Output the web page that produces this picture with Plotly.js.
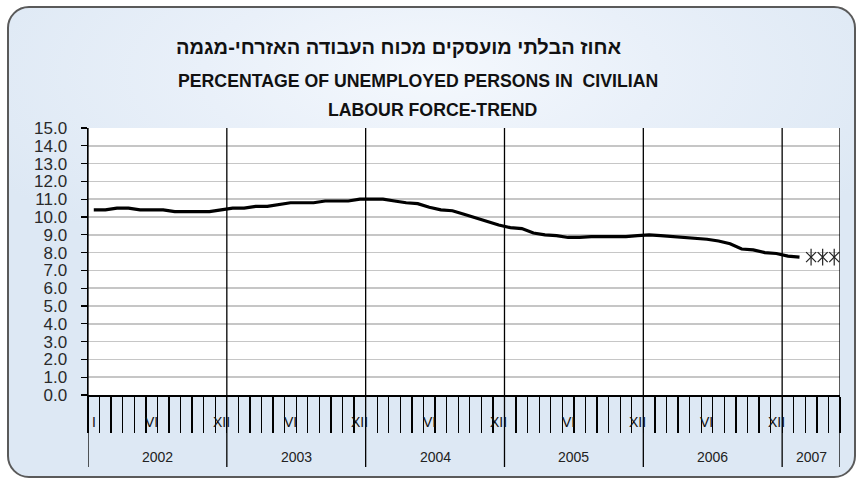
<!DOCTYPE html>
<html>
<head>
<meta charset="utf-8">
<script src="https://cdn.plot.ly/plotly-3.0.1.min.js"></script>
<style>
  html, body { margin: 0; padding: 0; background: #ffffff; }
  #frame {
    position: absolute; left: 7px; top: 6px; width: 849px; height: 472px;
    box-sizing: border-box; border: 2px solid #5a5a5a; border-radius: 22px;
    background: radial-gradient(ellipse 60% 45% at 50% 14%, #f4f8fd 0%, #e9f0f9 45%, #dde8f4 100%);
  }
  #chart { position: absolute; left: 0; top: 0; width: 864px; height: 486px; }
</style>
</head>
<body>
<div id="frame"></div>
<div id="chart"></div>
<script>
// ---- data ----
const years = [2002, 2003, 2004, 2005, 2006, 2007];
const monthsInYear = [12, 12, 12, 12, 12, 5];
const romanMonths = ['I','II','III','IV','V','VI','VII','VIII','IX','X','XI','XII'];
const labelledMonths = [6, 12];           // VI and XII in every year, I only at the start
// trend, Jan 2002 .. Feb 2007 (%)
const unemployment = [
  10.4, 10.4, 10.5, 10.5, 10.4, 10.4, 10.4, 10.3, 10.3, 10.3, 10.3, 10.4,   // 2002
  10.5, 10.5, 10.6, 10.6, 10.7, 10.8, 10.8, 10.8, 10.9, 10.9, 10.9, 11.0,   // 2003
  11.0, 11.0, 10.9, 10.8, 10.75, 10.55, 10.4, 10.35, 10.15, 9.95, 9.75, 9.55, // 2004
  9.4, 9.35, 9.1, 9.0, 8.95, 8.85, 8.85, 8.9, 8.9, 8.9, 8.9, 8.95,          // 2005
  9.0, 8.95, 8.9, 8.85, 8.8, 8.75, 8.65, 8.5, 8.2, 8.15, 8.0, 7.95,         // 2006
  7.8, 7.75                                                               // 2007
];
// Mar..May 2007, drawn as star markers
const preliminary = [7.75, 7.75, 7.75];

const titleHe = 'אחוז הבלתי מועסקים מכוח העבודה האזרחי-מגמה';
const titleEn1 = 'PERCENTAGE OF UNEMPLOYED PERSONS IN\u00a0\u00a0CIVILIAN';
const titleEn2 = 'LABOUR FORCE-TREND';

// ---- build ----
const totalMonths = monthsInYear.reduce((a, b) => a + b, 0);
const xMain = unemployment.map((v, i) => i + 0.5);
const xPrelim = preliminary.map((v, i) => unemployment.length + i + 0.5);

const boundaries = [0];
monthsInYear.forEach(n => boundaries.push(boundaries[boundaries.length - 1] + n));

const yearLineBottom = -0.27;
const shapes = boundaries.map(b => ({
  type: 'line', xref: 'x', yref: 'paper', x0: b, x1: b, y0: yearLineBottom, y1: 1,
  line: { color: '#000000', width: 1.3 }, layer: 'above'
}));

const annotations = [];
const tickFont = { family: 'Liberation Sans, Arial, sans-serif', size: 14, color: '#111111' };
years.forEach((yr, k) => {
  const start = boundaries[k];
  annotations.push({
    xref: 'x', yref: 'paper', x: start + monthsInYear[k] / 2, y: -0.232,
    text: String(yr), showarrow: false, font: { family: 'Liberation Sans, Arial, sans-serif', size: 14, color: '#222222' },
    xanchor: 'center', yanchor: 'middle'
  });
  const months = (k === 0 ? [1] : []).concat(labelledMonths);
  months.forEach(m => {
    if (m <= monthsInYear[k]) {
      annotations.push({
        xref: 'x', yref: 'paper', x: start + m - 0.5, y: -0.1,
        text: romanMonths[m - 1], showarrow: false, font: tickFont,
        xanchor: 'center', yanchor: 'middle'
      });
    }
  });
});
const titleFontHe = { family: 'Liberation Sans, Arial, sans-serif', size: 20, color: '#111111' };
const titleFontEn = { family: 'Liberation Sans, Arial, sans-serif', size: 17.7, color: '#111111' };
annotations.push({ xref: 'paper', yref: 'paper', x: 0.4136, y: 1.303, text: '<b>' + titleHe + '</b>',
  showarrow: false, font: titleFontHe, xanchor: 'center', yanchor: 'middle' });
annotations.push({ xref: 'paper', yref: 'paper', x: 0.439, y: 1.175, text: '<b>' + titleEn1 + '</b>',
  showarrow: false, font: titleFontEn, xanchor: 'center', yanchor: 'middle' });
annotations.push({ xref: 'paper', yref: 'paper', x: 0.459, y: 1.067, text: '<b>' + titleEn2 + '</b>',
  showarrow: false, font: titleFontEn, xanchor: 'center', yanchor: 'middle' });

const traces = [
  { x: xMain, y: unemployment, type: 'scatter', mode: 'lines',
    line: { color: '#000000', width: 3.2 }, hoverinfo: 'y', showlegend: false },
  { x: xPrelim, y: preliminary, type: 'scatter', mode: 'markers',
    marker: { symbol: 'x-thin-open', size: 10, color: '#222222', line: { color: '#222222', width: 1.2 } }, showlegend: false },
  { x: xPrelim, y: preliminary, type: 'scatter', mode: 'markers',
    marker: { symbol: 'line-ns-open', size: 12, color: '#222222', line: { color: '#222222', width: 1.2 } }, showlegend: false }
];

const layout = {
  width: 864, height: 486,
  margin: { l: 88, r: 24, t: 128, b: 91 },
  paper_bgcolor: 'rgba(0,0,0,0)',
  plot_bgcolor: '#ffffff',
  showlegend: false,
  xaxis: {
    range: [0, totalMonths], tick0: 0, dtick: 1, ticks: 'outside', ticklen: 36,
    tickwidth: 1.3, tickcolor: '#000000', showticklabels: false, showgrid: false,
    showline: true, linecolor: '#000000', linewidth: 1.5, zeroline: false, fixedrange: true
  },
  yaxis: {
    range: [0, 15], tick0: 0, dtick: 1, tickformat: '.1f', ticks: 'outside', ticklen: 6,
    tickwidth: 1.3, tickcolor: '#000000', showgrid: true, gridcolor: '#c6c6c6', gridwidth: 1.5,
    showline: true, linecolor: '#000000', linewidth: 1.5, zeroline: false, fixedrange: true,
    ticklabelstandoff: 10,
    tickfont: { family: 'Liberation Sans, Arial, sans-serif', size: 17, color: '#2a2a2a' }
  },
  shapes: shapes,
  annotations: annotations
};

Plotly.newPlot('chart', traces, layout, { displayModeBar: false, staticPlot: true });
</script>
</body>
</html>
